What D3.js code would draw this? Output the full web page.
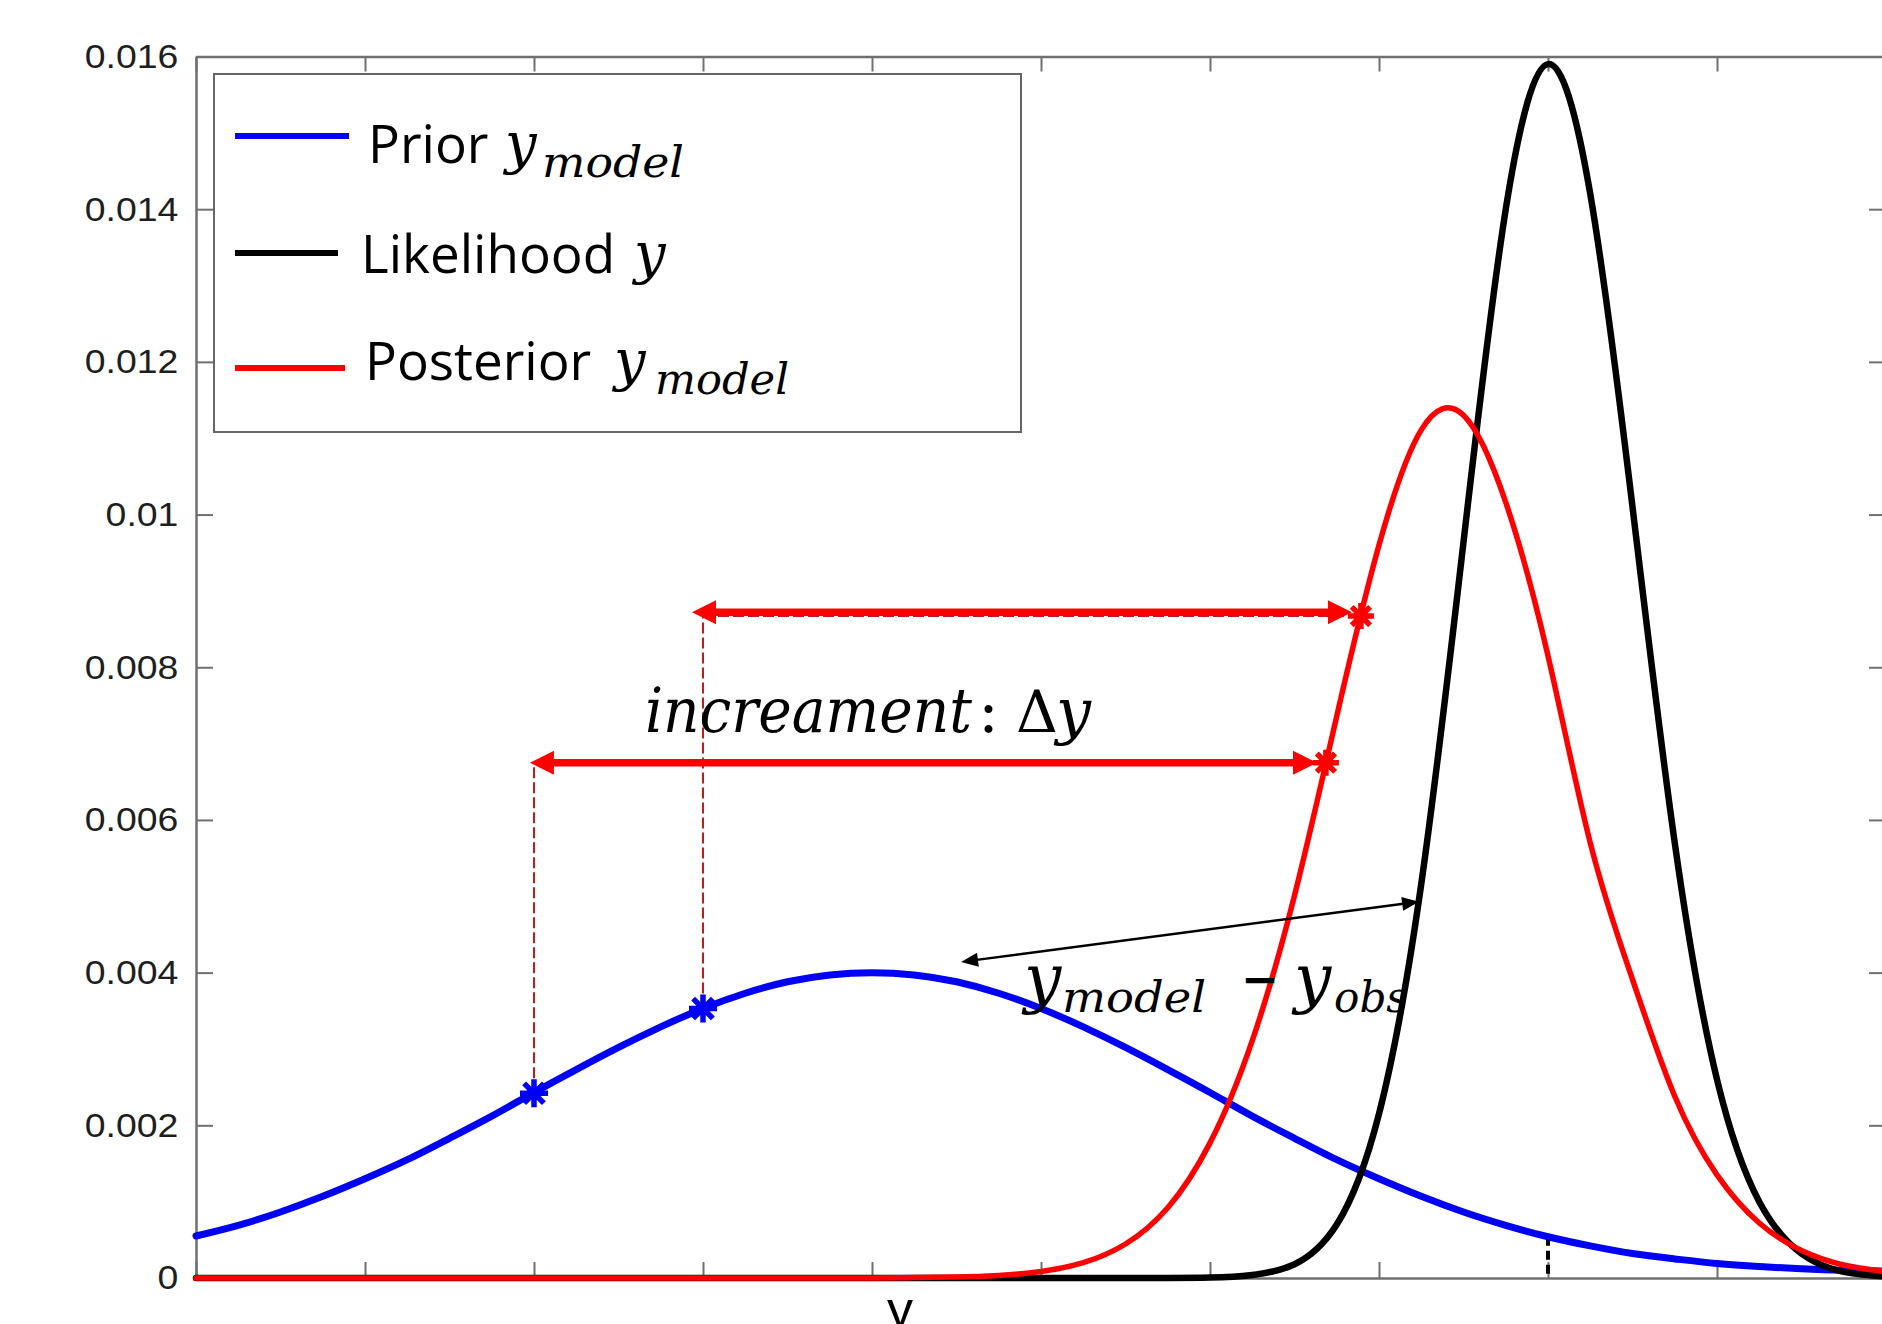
<!DOCTYPE html>
<html>
<head>
<meta charset="utf-8">
<script src="https://cdn.jsdelivr.net/npm/d3@7"></script>
<style>
  html, body { margin: 0; padding: 0; background: #fff; }
  svg { display: block; }
</style>
</head>
<body>
<svg id="chart" width="1882" height="1324"></svg>
<script>
// ---- data -------------------------------------------------------------
// sample positions along y (horizontal axis)
const xGrid = [0, 0.25, 0.5, 0.75, 1, 1.25, 1.5, 1.75, 2, 2.25, 2.5, 2.75, 3, 3.25, 3.5, 3.75,
  4, 4.25, 4.5, 4.75, 5, 5.25, 5.5, 5.75, 6, 6.25, 6.5, 6.75, 7, 7.25, 7.5, 7.75,
  8, 8.25, 8.5, 8.75, 9, 9.25, 9.5, 9.75, 10];

// prior density of y_model
const priorDensity = [0.00055, 0.00069, 0.000865, 0.00107, 0.00130, 0.00155, 0.00183, 0.00212,
  0.00243, 0.00273, 0.00302, 0.00329, 0.00353, 0.00373, 0.00388, 0.00397,
  0.00400, 0.00397, 0.00388, 0.00373, 0.00353, 0.00329, 0.00302, 0.00273,
  0.00243, 0.00212, 0.00183, 0.00155, 0.00130, 0.00107, 0.000865, 0.00069,
  0.00054, 0.00042, 0.00032, 0.00025, 0.00019, 0.00015, 0.00012, 0.00010, 0.00009];

// likelihood of the observation y
const likelihoodDensity = [0, 0, 0, 0, 0, 0, 0, 0, 0, 0, 0, 0, 0, 0, 0, 0,
  0, 0, 0, 0, 0, 0, 0, 0, 0.000005, 0.00004, 0.00018, 0.0007, 0.00215, 0.00516, 0.00964, 0.0140,
  0.0159, 0.0142, 0.0101, 0.0057, 0.0026, 0.0010, 0.00032, 0.00008, 0.00002];

// posterior density of y_model
const posteriorDensity = [0, 0, 0, 0, 0, 0, 0, 0, 0, 0, 0, 0, 0, 0, 0, 0,
  0, 0.000005, 0.000013, 0.000034, 0.000085, 0.00020, 0.000445, 0.00092, 0.00177, 0.00311, 0.00501, 0.00736,
  0.00960, 0.01111, 0.01130, 0.01016, 0.00815, 0.00570, 0.00391, 0.00238, 0.00135, 0.00072,
  0.00036, 0.00017, 0.00008];

const xTickValues = [0, 1, 2, 3, 4, 5, 6, 7, 8, 9, 10];
const yTickValues = [0, 0.002, 0.004, 0.006, 0.008, 0.01, 0.012, 0.014, 0.016];
const yTickLabels = ["0", "0.002", "0.004", "0.006", "0.008", "0.01", "0.012", "0.014", "0.016"];

// sampled prior points and the posterior points they move to
const priorMarkX = [2, 3];
const priorMarkY = [0.00242, 0.00353];
const posteriorMarkX = [6.686, 6.893];
const posteriorMarkY = [0.00675, 0.00867];
// increment arrows (one per sampled point)
const incrementStart = [1.976, 2.935];
const incrementEnd = [6.633, 6.84];
const incrementLevel = [0.00675, 0.00872];

// arrow between prior and likelihood: y_model - y_obs
const gapArrowX = [4.527, 7.237];
const gapArrowY = [0.00414, 0.00493];

// observed value and the prior density there
const observedX = 8;
const priorAtObserved = 0.00054;

// ---- layout -----------------------------------------------------------
const svg = d3.select("#chart");
const x = d3.scaleLinear().domain([0, 10]).range([196, 1886]);
const y = d3.scaleLinear().domain([0, 0.016]).range([1278, 56.5]);

const axisColor = "#707070";
const blue = "#0000f5", black = "#000000", red = "#ff0000", dashRed = "#c41a1a";
const mathFont = "'DejaVu Serif', 'Liberation Serif', serif";
const textFont = "'Open Sans', 'Noto Sans', sans-serif";

function styleAxis(g) {
  g.select(".domain").attr("stroke", axisColor).attr("stroke-width", 2.5);
  g.selectAll(".tick line").attr("stroke", axisColor).attr("stroke-width", 2);
}

// box axes with inward ticks
svg.append("g").attr("transform", `translate(0,${y(0)})`)
  .call(d3.axisBottom(x).tickValues(xTickValues).tickSize(-16).tickSizeOuter(0).tickFormat(""))
  .call(styleAxis);
svg.append("g").attr("transform", `translate(0,${y(0.016)})`)
  .call(d3.axisTop(x).tickValues(xTickValues).tickSize(-15).tickSizeOuter(0).tickFormat(""))
  .call(styleAxis);
svg.append("g").attr("transform", `translate(${x(10)},0)`)
  .call(d3.axisRight(y).tickValues(yTickValues).tickSize(-17).tickSizeOuter(0).tickFormat(""))
  .call(styleAxis);
const gLeft = svg.append("g").attr("transform", `translate(${x(0)},0)`)
  .call(d3.axisLeft(y).tickValues(yTickValues).tickSize(-17).tickSizeOuter(0).tickPadding(16)
    .tickFormat((d, i) => yTickLabels[i]))
  .call(styleAxis);
gLeft.attr("font-family", "'Liberation Sans', Arial, sans-serif").attr("font-size", 34);
gLeft.selectAll(".tick text").attr("fill", "#1e1e1e").attr("transform", "scale(1.1,1)");

// x-axis label (partly below the frame)
svg.append("text").attr("x", 900).attr("y", 1327).attr("text-anchor", "middle")
  .attr("font-family", "'Liberation Sans', Arial, sans-serif").attr("font-size", 52)
  .attr("fill", "#000").text("y");

// ---- guide lines under the curves --------------------------------------
const dashG = svg.append("g").attr("fill", "none");
priorMarkX.forEach((px, i) => {
  // vertical from prior sample up to its arrow level
  dashG.append("line")
    .attr("x1", x(px)).attr("x2", x(px))
    .attr("y1", y(priorMarkY[i])).attr("y2", y(posteriorMarkY[i]))
    .attr("stroke", dashRed).attr("stroke-width", 2).attr("stroke-dasharray", "11,4");
  // horizontal to the posterior point
  dashG.append("line")
    .attr("x1", x(px)).attr("x2", x(posteriorMarkX[i]))
    .attr("y1", y(posteriorMarkY[i])).attr("y2", y(posteriorMarkY[i]))
    .attr("stroke", dashRed).attr("stroke-width", 2).attr("stroke-dasharray", "11,4");
});

// observed value marker
svg.append("line")
  .attr("x1", x(observedX)).attr("x2", x(observedX))
  .attr("y1", y(priorAtObserved)).attr("y2", y(0))
  .attr("stroke", black).attr("stroke-width", 4).attr("stroke-dasharray", "9,5");

// ---- density curves ----------------------------------------------------
const line = d3.line()
  .x((d, i) => x(xGrid[i]))
  .y(d => y(d))
  .curve(d3.curveNatural);

const curves = [
  { values: priorDensity, color: blue, width: 7 },
  { values: likelihoodDensity, color: black, width: 6.5 },
  { values: posteriorDensity, color: red, width: 5.5 }
];
curves.forEach(c => {
  svg.append("path").datum(c.values)
    .attr("d", line)
    .attr("fill", "none")
    .attr("stroke", c.color)
    .attr("stroke-width", c.width)
    .attr("stroke-linejoin", "round")
    .attr("stroke-linecap", "round");
});

// ---- asterisk markers ---------------------------------------------------
function asterisk(cx, cy, r) {
  const p = d3.path();
  for (let k = 0; k < 4; k++) {
    const a = k * Math.PI / 4;
    p.moveTo(cx - r * Math.cos(a), cy - r * Math.sin(a));
    p.lineTo(cx + r * Math.cos(a), cy + r * Math.sin(a));
  }
  return p.toString();
}
priorMarkX.forEach((px, i) => {
  svg.append("path").attr("d", asterisk(x(px), y(priorMarkY[i]), 14))
    .attr("stroke", blue).attr("stroke-width", 5.5).attr("fill", "none");
});

// ---- increment arrows ---------------------------------------------------
function doubleArrow(g, x1, x2, yy, color, shaft, headLen, headHalf) {
  g.append("line")
    .attr("x1", x1 + headLen * 0.8).attr("x2", x2 - headLen * 0.8)
    .attr("y1", yy).attr("y2", yy)
    .attr("stroke", color).attr("stroke-width", shaft);
  g.append("path")
    .attr("d", `M${x1},${yy} L${x1 + headLen},${yy - headHalf} L${x1 + headLen},${yy + headHalf} Z`)
    .attr("fill", color);
  g.append("path")
    .attr("d", `M${x2},${yy} L${x2 - headLen},${yy - headHalf} L${x2 - headLen},${yy + headHalf} Z`)
    .attr("fill", color);
}
const arrowG = svg.append("g");
incrementStart.forEach((s, i) => {
  doubleArrow(arrowG, x(s), x(incrementEnd[i]), y(incrementLevel[i]), red, 7.5, 24, 12);
});

posteriorMarkX.forEach((px, i) => {
  svg.append("path").attr("d", asterisk(x(px), y(posteriorMarkY[i]), 13))
    .attr("stroke", red).attr("stroke-width", 5.5).attr("fill", "none");
});

// ---- y_model - y_obs arrow ----------------------------------------------
(function () {
  const x1 = x(gapArrowX[0]), y1 = y(gapArrowY[0]);
  const x2 = x(gapArrowX[1]), y2 = y(gapArrowY[1]);
  const ang = Math.atan2(y2 - y1, x2 - x1);
  const L = 17, Hh = 7;
  const g = svg.append("g");
  g.append("line")
    .attr("x1", x1 + Math.cos(ang) * L * 0.7).attr("y1", y1 + Math.sin(ang) * L * 0.7)
    .attr("x2", x2 - Math.cos(ang) * L * 0.7).attr("y2", y2 - Math.sin(ang) * L * 0.7)
    .attr("stroke", black).attr("stroke-width", 2.5);
  function head(tx, ty, dir) {
    const bx = tx + dir * Math.cos(ang) * L, by = ty + dir * Math.sin(ang) * L;
    const nx = -Math.sin(ang) * Hh, ny = Math.cos(ang) * Hh;
    g.append("path")
      .attr("d", `M${tx},${ty} L${bx + nx},${by + ny} L${bx - nx},${by - ny} Z`)
      .attr("fill", black);
  }
  head(x1, y1, 1);
  head(x2, y2, -1);
})();

// ---- math labels --------------------------------------------------------
function mathText(tx, ty, str, size, opts) {
  opts = opts || {};
  const t = svg.append("text")
    .attr("x", tx).attr("y", ty)
    .attr("font-family", opts.family || mathFont)
    .attr("font-style", opts.upright ? "normal" : "italic")
    .attr("font-weight", opts.weight || "normal")
    .attr("font-size", size)
    .attr("fill", "#000")
    .text(str);
  if (opts.length) t.attr("textLength", opts.length).attr("lengthAdjust", "spacingAndGlyphs");
  return t;
}

// increament: Δy  (italic word, upright colon and delta)
(function () {
  const t = svg.append("text")
    .attr("x", 645).attr("y", 732)
    .attr("font-family", mathFont).attr("font-size", 62).attr("fill", "#000");
  t.append("tspan").attr("font-style", "italic")
    .attr("textLength", 327).attr("lengthAdjust", "spacingAndGlyphs").text("increament");
  t.append("tspan").attr("font-style", "normal").attr("x", 978).text(":");
  t.append("tspan").attr("font-style", "normal").attr("font-size", 58).attr("x", 1016).text("Δ");
  t.append("tspan").attr("font-style", "italic").attr("x", 1056).text("y");
})();

// y_model − y_obs
mathText(1024, 1000, "y", 66);
mathText(1062, 1012, "model", 42, { length: 144 });
mathText(1241, 995, "−", 46, { upright: true, family: "'DejaVu Sans', sans-serif", weight: "bold", length: 38 });
mathText(1294, 1000, "y", 66);
mathText(1334, 1012, "obs", 42, { length: 74 });

// ---- legend -------------------------------------------------------------
const legend = svg.append("g");
legend.append("rect")
  .attr("x", 214).attr("y", 74).attr("width", 807).attr("height", 358)
  .attr("fill", "#fff").attr("stroke", "#666").attr("stroke-width", 2);

const legendItems = [
  { color: blue, lineEnd: 349, lineY: 136, label: "Prior", labelX: 368, base: 163, yX: 505, sub: "model", subX: 542, subLen: 142 },
  { color: black, lineEnd: 338, lineY: 253, label: "Likelihood", labelX: 361, base: 273, yX: 634, sub: null },
  { color: red, lineEnd: 345, lineY: 368, label: "Posterior", labelX: 365, base: 380, yX: 614, sub: "model", subX: 655, subLen: 134 }
];
legendItems.forEach(it => {
  legend.append("line")
    .attr("x1", 235).attr("x2", it.lineEnd)
    .attr("y1", it.lineY).attr("y2", it.lineY)
    .attr("stroke", it.color).attr("stroke-width", 6);
  legend.append("text")
    .attr("x", it.labelX).attr("y", it.base)
    .attr("font-family", textFont).attr("font-size", 53)
    .attr("fill", "#000").text(it.label);
  mathText(it.yX, it.base, "y", 56);
  if (it.sub) mathText(it.subX, it.base + 14, it.sub, 42, { length: it.subLen });
});
</script>
</body>
</html>
